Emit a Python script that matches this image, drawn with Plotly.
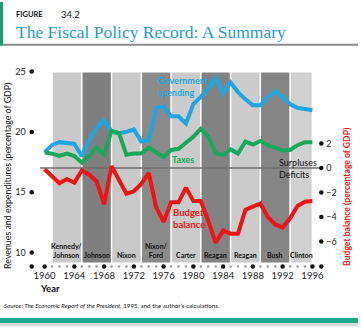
import plotly.graph_objects as go

# ---------------- data ----------------
years = list(range(1960, 1997))
spending = [18.3, 18.9, 19.15, 19.1, 19.0, 18.0, 19.3, 20.3, 21.0, 20.0,
            19.9, 20.0, 20.2, 19.2, 19.3, 22.0, 22.1, 21.3, 21.3, 20.7,
            22.3, 22.9, 23.6, 24.45, 23.2, 24.1, 23.3, 22.7, 22.2, 22.2,
            22.9, 23.35, 22.9, 22.3, 22.0, 21.9, 21.8]
taxes = [18.3, 18.2, 18.0, 18.2, 18.0, 17.45, 18.0, 18.7, 18.1, 20.1,
         19.9, 18.1, 18.2, 18.2, 18.7, 18.3, 17.9, 18.5, 18.6, 19.1,
         19.6, 20.25, 19.6, 18.2, 18.1, 18.55, 18.2, 19.2, 18.95, 19.25,
         18.9, 18.7, 18.45, 18.5, 18.9, 19.15, 19.15]
balance = [-0.1, -0.7, -1.25, -0.9, -1.2, -0.2, -0.55, -1.1, -2.95, 0.15,
           -0.9, -2.1, -1.9, -1.3, -0.4, -3.2, -4.4, -2.8, -2.8, -1.6,
           -2.7, -2.7, -4.3, -6.1, -5.1, -5.35, -5.35, -3.4, -3.15, -2.9,
           -4.0, -4.6, -4.85, -4.1, -3.1, -2.75, -2.7]

presidents = ["Kennedy/<br>Johnson", "Johnson", "Nixon", "Nixon/<br>Ford", "Carter",
              "Reagan", "Reagan", "Bush", "Clinton"]
term_start = [1961, 1965, 1969, 1973, 1977, 1981, 1985, 1989, 1993]
term_end = [1965, 1969, 1973, 1977, 1981, 1985, 1989, 1993, 1996]
term_shade = ["#c9c9c9", "#7f7f7f", "#c9c9c9", "#8a8a8a", "#cbcbcb",
              "#828282", "#cbcbcb", "#858585", "#d0d0d0"]

left_ticks = [10, 15, 20, 25]
right_ticks = [2, 0, -2, -4, -6]
right_ticktext = ["2", "0", "\u22122", "\u22124", "\u22126"]
year_ticks = list(range(1960, 1997, 4))

# ---------------- geometry helpers ----------------
W, H = 361, 332
def px(x):
    return x / W
def py(y):
    return 1 - y / H

x_range = [1958.27, 1997.2]
y_range = [8.85, 25.33]
y2_range = [-8.02, 8.18]
band_bottom, band_top = 9.18, 24.92

BLUE = "#1ea6e3"
GREEN = "#17a85c"
RED = "#ee1414"
FONT = "Lato"

fig = go.Figure()

# presidential term bands
fig.add_trace(go.Bar(
    x=[(s + e) / 2 for s, e in zip(term_start, term_end)],
    y=[band_top - band_bottom] * len(term_start),
    base=[band_bottom] * len(term_start),
    width=[(e - s) - 0.2 for s, e in zip(term_start, term_end)],
    marker=dict(color=term_shade, line=dict(width=0)),
    hoverinfo="skip", showlegend=False, yaxis="y"))

# surplus / deficit divider
fig.add_trace(go.Scatter(x=[1959.4, x_range[1]], y=[0, 0], yaxis="y2", mode="lines",
                         line=dict(color="#6e6e6e", width=1.5), hoverinfo="skip",
                         showlegend=False, cliponaxis=False))

# series
fig.add_trace(go.Scatter(x=years, y=spending, mode="lines", yaxis="y",
                         line=dict(color=BLUE, width=4), showlegend=False))
fig.add_trace(go.Scatter(x=years, y=taxes, mode="lines", yaxis="y",
                         line=dict(color=GREEN, width=4), showlegend=False))
fig.add_trace(go.Scatter(x=years, y=balance, mode="lines", yaxis="y2",
                         line=dict(color=RED, width=4), showlegend=False))

# axis dots
small_years = [y for y in years if y not in year_ticks]
fig.add_trace(go.Scatter(x=small_years, y=[y_range[0]] * len(small_years), mode="markers",
                         marker=dict(color="#9a9a9a", size=2.5), cliponaxis=False,
                         showlegend=False, hoverinfo="skip"))
fig.add_trace(go.Scatter(x=year_ticks + [x_range[0], x_range[1]],
                         y=[y_range[0]] * (len(year_ticks) + 2), mode="markers",
                         marker=dict(color="#111", size=4.5), cliponaxis=False,
                         showlegend=False, hoverinfo="skip"))
fig.add_trace(go.Scatter(x=[x_range[0]] * len(left_ticks), y=left_ticks, mode="markers",
                         marker=dict(color="#111", size=4.5), cliponaxis=False,
                         showlegend=False, hoverinfo="skip"))
fig.add_trace(go.Scatter(x=[x_range[1]] * len(right_ticks), y=right_ticks, yaxis="y2",
                         mode="markers", marker=dict(color="#111", size=4.5),
                         cliponaxis=False, showlegend=False, hoverinfo="skip"))

ann = []
# band labels
for name, s, e in zip(presidents, term_start, term_end):
    ann.append(dict(x=(s + e) / 2, y=band_bottom, xref="x", yref="y", text="<b>" + name + "</b>",
                    showarrow=False, yanchor="bottom", xanchor="center", yshift=1,
                    font=dict(family=FONT, size=7, color="#111"), align="center"))

# series labels
ann += [
    dict(x=1975.0, y=23.8, xref="x", yref="y", text="<b>Government<br>spending</b>",
         showarrow=False, xanchor="left", yanchor="middle", align="left",
         font=dict(family=FONT, size=9, color=BLUE)),
    dict(x=1976.9, y=17.75, xref="x", yref="y", text="<b>Taxes</b>",
         showarrow=False, xanchor="left", yanchor="middle",
         font=dict(family=FONT, size=9, color=GREEN)),
    dict(x=1977.0, y=-4.09, xref="x", yref="y2", text="<b>Budget<br>balance</b>",
         showarrow=False, xanchor="left", yanchor="middle", align="left",
         font=dict(family=FONT, size=9.5, color=RED)),
    dict(x=1991.2, y=0.42, xref="x", yref="y2", text="Surpluses", showarrow=False,
         xanchor="left", yanchor="middle", font=dict(family=FONT, size=9, color="#111")),
    dict(x=1991.2, y=-0.5, xref="x", yref="y2", text="Deficits", showarrow=False,
         xanchor="left", yanchor="middle", font=dict(family=FONT, size=9, color="#111")),
]

# axis titles
ann += [
    dict(x=px(8), y=py(175), xref="paper", yref="paper", textangle=-90,
         xanchor="center", yanchor="middle",
         text="Revenues and expenditures (percentage of GDP)", showarrow=False,
         font=dict(family=FONT, size=8.8, color="#151515")),
    dict(x=px(350), y=py(196), xref="paper", yref="paper", textangle=-90,
         xanchor="center", yanchor="middle",
         text="<b>Budget balance (percentage of GDP)</b>", showarrow=False,
         font=dict(family=FONT, size=8.6, color=RED)),
    dict(x=px(38), y=py(288), xref="paper", yref="paper", text="<b>Year</b>",
         xanchor="left", yanchor="middle", showarrow=False,
         font=dict(family=FONT, size=9.5, color="#111")),
]

# titles / source
ann += [
    dict(x=px(14), y=py(13), xref="paper", yref="paper", text="<b>FIGURE</b>",
         xanchor="left", yanchor="middle", showarrow=False,
         font=dict(family=FONT, size=7.5, color="#111")),
    dict(x=px(59), y=py(13), xref="paper", yref="paper", text="34.2",
         xanchor="left", yanchor="middle", showarrow=False,
         font=dict(family=FONT, size=9.5, color="#111")),
    dict(x=px(14), y=py(30), xref="paper", yref="paper",
         text="The Fiscal Policy Record: A Summary", xanchor="left", yanchor="middle",
         showarrow=False, font=dict(family="Liberation Serif", size=17.5, color="#2b9bd3")),
    dict(x=px(2), y=py(305), xref="paper", yref="paper",
         text="<i>Source: The Economic Report of the President,</i> 1995, and the author\u2019s calculations.",
         xanchor="left", yanchor="middle", showarrow=False,
         font=dict(family=FONT, size=6.2, color="#222")),
]

shapes = [
    dict(type="rect", xref="paper", yref="paper", x0=0, x1=px(3), y0=py(44), y1=py(0),
         fillcolor="#1b9e6c", line=dict(width=0)),
    dict(type="rect", xref="paper", yref="paper", x0=px(3), x1=1, y0=py(44), y1=py(42),
         fillcolor="#8c8c8c", line=dict(width=0)),
    dict(type="rect", xref="paper", yref="paper", x0=0, x1=1, y0=py(323), y1=py(318),
         fillcolor="#1aa98a", line=dict(width=0)),
    dict(type="rect", xref="paper", yref="paper", x0=0, x1=1, y0=py(326), y1=py(323),
         fillcolor="#d8d8d8", line=dict(width=0)),
]

fig.update_layout(
    width=W, height=H, autosize=False,
    margin=dict(l=0, r=0, t=0, b=0),
    paper_bgcolor="white", plot_bgcolor="rgba(0,0,0,0)",
    barmode="overlay", showlegend=False,
    xaxis=dict(domain=[px(32), px(324)], range=x_range, showgrid=False, zeroline=False,
               showline=False, tickvals=year_ticks, ticks="", ticklabelstandoff=2,
               tickfont=dict(family=FONT, size=9.5, color="#222"), fixedrange=True),
    yaxis=dict(domain=[py(266), py(66)], range=y_range, showgrid=False, zeroline=False,
               showline=False, tickvals=left_ticks, ticks="", ticklabelstandoff=5,
               tickfont=dict(family=FONT, size=9, color="#222"), fixedrange=True),
    yaxis2=dict(overlaying="y", side="right", range=y2_range, showgrid=False,
                zeroline=False, showline=False, tickvals=right_ticks,
                ticktext=right_ticktext, ticks="", ticklabelstandoff=4,
                tickfont=dict(family=FONT, size=9, color="#222"), fixedrange=True),
    annotations=ann, shapes=shapes,
)

fig.write_html("out.html", config={"displayModeBar": False})
